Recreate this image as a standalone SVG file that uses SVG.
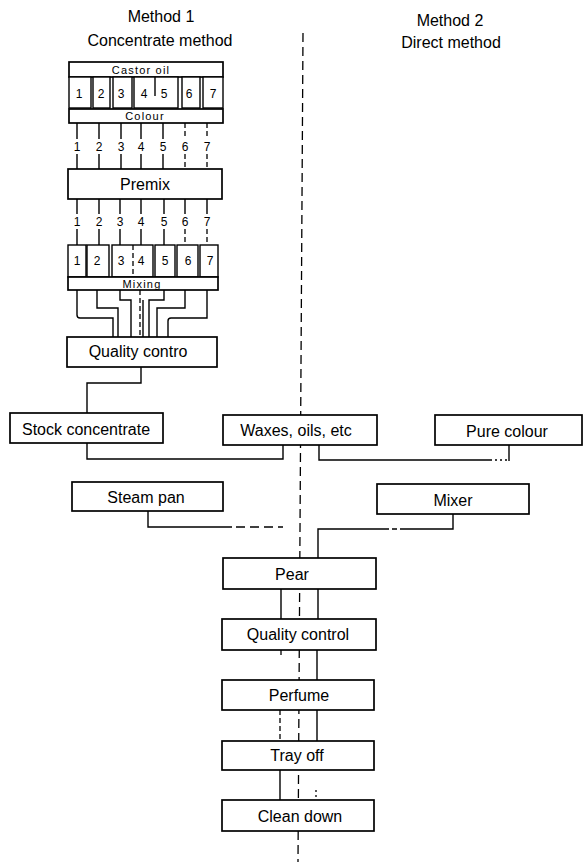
<svg xmlns="http://www.w3.org/2000/svg" width="584" height="867" viewBox="0 0 584 867">
<style>
.bx{fill:#fff;stroke:#000;stroke-width:1.7}
.cl{fill:#fff;stroke:#000;stroke-width:1.4}
.ln{fill:none;stroke:#000;stroke-width:1.4}
.dv{fill:none;stroke:#000;stroke-width:1.3;stroke-dasharray:9 5}
.ds{fill:none;stroke:#000;stroke-width:1.3;stroke-dasharray:5 3}
.dt{fill:none;stroke:#000;stroke-width:1.3;stroke-dasharray:2 3}
text{font-family:"Liberation Sans",Arial,sans-serif;fill:#000;text-anchor:middle}
.t{font-size:16px}
.s{font-size:11px;letter-spacing:1.2px}
.n{font-size:12px}
</style>
<rect width="584" height="867" fill="#fff"/>
<g id="titles">
<text class="t" x="161" y="22">Method 1</text>
<text class="t" x="160" y="46">Concentrate method</text>
<text class="t" x="450" y="26">Method 2</text>
<text class="t" x="451" y="48">Direct method</text>
</g>
<g id="connectors">
<path class="dv" d="M303,33 L298,862"/>
<path class="ln" d="M77,123V139M77,154V169M99,123V139M99,154V169M121,123V139M121,154V169M141,123V139M141,154V169M163,123V139M163,154V169"/>
<path class="ds" d="M185,123V139M185,154V169M207,123V139M207,154V169"/>
<path class="ln" d="M77,199V214M77,229V245M99,199V214M99,229V245M120,199V214M120,229V245M141,199V214M141,229V245M164,199V214M164,229V245M185,199V214M207,199V214"/>
<path class="ds" d="M185,229V245M207,229V245"/>
<path class="ln" d="M77,290V315Q77,318 80,318H113V337"/>
<path class="ln" d="M97,290V308H118V337"/>
<path class="ln" d="M120,290V300H131V337"/>
<path class="ds" d="M140,290V337"/>
<path class="ln" d="M143,300V337"/>
<path class="ln" d="M164,290V300H149V337"/>
<path class="ln" d="M185,290V308H157V337"/>
<path class="ln" d="M207,290V318H171Q168,318 168,321V337"/>
<path class="ln" d="M141,367V383H87V413"/>
<path class="ln" d="M87,443V459H283V445"/>
<path class="ln" d="M319,445V460H490"/>
<path class="dt" d="M490,460H509"/>
<path class="ln" d="M509,445V461"/>
<path class="ln" d="M148,511V527H232"/>
<path class="dv" d="M236,527H283"/>
<path class="ln" d="M453,514V529H405"/>
<path class="ds" d="M405,529H385"/>
<path class="ln" d="M385,529H318V558"/>
<path class="ln" d="M281,589V619M318,589V619"/>
<path class="ds" d="M281,650V658"/>
<path class="ln" d="M317,650V680"/>
<path class="ds" d="M280,710V741"/>
<path class="ln" d="M317,710V741"/>
<path class="ln" d="M280,770V800"/>
<path class="dt" d="M316,790V800"/>
</g>
<g id="castor-oil"><rect class="bx" x="69" y="62" width="154" height="15"/><text class="s" x="141" y="74">Castor oil</text></g>
<g id="cells-top">
<rect class="cl" x="69" y="77" width="22" height="31"/><text class="n" x="79" y="98">1</text>
<rect class="cl" x="93" y="77" width="17" height="31"/><text class="n" x="101" y="98">2</text>
<rect class="cl" x="113" y="77" width="19" height="31"/><text class="n" x="121" y="98">3</text>
<rect class="cl" x="134" y="77" width="44" height="31"/><path class="ln" d="M155,77V96"/><text class="n" x="144" y="98">4</text><text class="n" x="164" y="98">5</text>
<rect class="cl" x="182" y="77" width="18" height="31"/><text class="n" x="189" y="98">6</text>
<rect class="cl" x="203" y="77" width="20" height="31"/><text class="n" x="213" y="98">7</text>
</g>
<g id="colour"><rect class="bx" x="69" y="109" width="154" height="14"/><text class="s" x="145" y="120">Colour</text></g>
<g id="labels-1">
<text class="n" x="77" y="151">1</text><text class="n" x="99" y="151">2</text><text class="n" x="121" y="151">3</text><text class="n" x="141" y="151">4</text><text class="n" x="163" y="151">5</text><text class="n" x="185" y="151">6</text><text class="n" x="207" y="151">7</text>
</g>
<g id="premix"><rect class="bx" x="68" y="169" width="154" height="30"/><text class="t" x="145" y="190">Premix</text></g>
<g id="labels-2">
<text class="n" x="77" y="226">1</text><text class="n" x="99" y="226">2</text><text class="n" x="120" y="226">3</text><text class="n" x="141" y="226">4</text><text class="n" x="164" y="226">5</text><text class="n" x="185" y="226">6</text><text class="n" x="207" y="226">7</text>
</g>
<g id="cells-bottom">
<rect class="cl" x="68" y="245" width="18" height="32"/><text class="n" x="77" y="265">1</text>
<rect class="cl" x="87" y="245" width="22" height="32"/><text class="n" x="97" y="265">2</text>
<rect class="cl" x="112" y="245" width="41" height="32"/><path class="ds" d="M133,245V277"/><text class="n" x="121" y="265">3</text><text class="n" x="141" y="265">4</text>
<rect class="cl" x="155" y="245" width="20" height="32"/><text class="n" x="165" y="265">5</text>
<rect class="cl" x="177" y="245" width="21" height="32"/><text class="n" x="188" y="265">6</text>
<rect class="cl" x="200" y="245" width="18" height="32"/><text class="n" x="210" y="265">7</text>
</g>
<g id="mixing"><rect class="bx" x="68" y="277" width="150" height="13"/><text class="s" x="142" y="288">Mixing</text></g>
<g id="quality-control-1"><rect class="bx" x="67" y="337" width="150" height="30"/><text class="t" x="138" y="357">Quality contro</text></g>
<g id="stock-concentrate"><rect class="bx" x="10" y="413" width="153" height="30"/><text class="t" x="86" y="435">Stock concentrate</text></g>
<g id="waxes"><rect class="bx" x="223" y="415" width="154" height="30"/><text class="t" x="296" y="436">Waxes, oils, etc</text></g>
<g id="pure-colour"><rect class="bx" x="435" y="415" width="147" height="30"/><text class="t" x="507" y="437">Pure colour</text></g>
<g id="steam-pan"><rect class="bx" x="72" y="482" width="151" height="29"/><text class="t" x="146" y="503">Steam pan</text></g>
<g id="mixer"><rect class="bx" x="377" y="484" width="152" height="30"/><text class="t" x="453" y="506">Mixer</text></g>
<g id="pear"><rect class="bx" x="223" y="558" width="153" height="31"/><text class="t" x="292" y="580">Pear</text></g>
<g id="quality-control-2"><rect class="bx" x="222" y="619" width="154" height="31"/><text class="t" x="298" y="640">Quality control</text></g>
<g id="perfume"><rect class="bx" x="222" y="680" width="152" height="30"/><text class="t" x="299" y="701">Perfume</text></g>
<g id="tray-off"><rect class="bx" x="222" y="741" width="152" height="29"/><text class="t" x="297" y="761">Tray off</text></g>
<g id="clean-down"><rect class="bx" x="222" y="800" width="152" height="31"/><text class="t" x="300" y="822">Clean down</text></g>
</svg>
